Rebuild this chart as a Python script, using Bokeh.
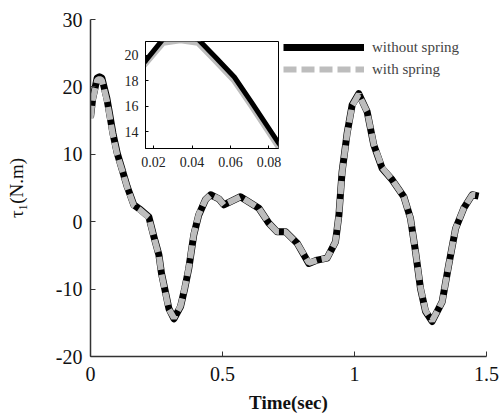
from bokeh.plotting import figure
from bokeh.models import Range1d, FixedTicker, Legend, LegendItem
from bokeh.layouts import column
from bokeh.embed import file_html
from bokeh.resources import INLINE

# ---- data ----
time_s = [0, 0.008, 0.016, 0.025, 0.034, 0.043, 0.052, 0.062, 0.071, 0.085,
          0.101, 0.12, 0.139, 0.164, 0.189, 0.221, 0.24, 0.259, 0.269, 0.282,
          0.297, 0.316, 0.341, 0.357, 0.372, 0.391, 0.41, 0.436, 0.455, 0.486,
          0.505, 0.568, 0.638, 0.675, 0.707, 0.739, 0.783, 0.827, 0.859, 0.896,
          0.928, 0.941, 0.953, 0.972, 0.991, 1.016, 1.048, 1.073, 1.105, 1.143,
          1.187, 1.212, 1.231, 1.25, 1.269, 1.294, 1.332, 1.357, 1.383, 1.414,
          1.446, 1.47]
without_spring = [15.5, 18.2, 19.6, 21.3, 21.5, 21.3, 19.9, 18.3, 16.3, 13.1,
                  10.2, 7.7, 5.2, 2.5, 1.8, 0.7, -2.2, -4.9, -7.7, -10.1,
                  -12.9, -14.4, -12.6, -9.9, -7.0, -2.0, 1.0, 3.3, 4.0, 3.4,
                  2.5, 3.7, 2.0, -0.2, -1.5, -1.5, -3.2, -6.2, -5.7, -5.4,
                  -3.0, 1.0, 7.4, 13.1, 17.3, 19.0, 16.3, 11.4, 7.9, 6.2,
                  3.7, 0.5, -4.4, -9.9, -13.3, -14.8, -11.9, -6.4, -1.0, 2.0,
                  4.0, 3.8]
with_spring = [15.3, 18.0, 19.4, 21.0, 21.2, 21.0, 19.6, 18.0, 16.0, 12.8,
               10.0, 7.6, 5.1, 2.4, 1.7, 0.6, -2.3, -5.0, -7.8, -10.2,
               -13.0, -14.3, -12.5, -9.8, -6.9, -1.9, 1.1, 3.3, 4.0, 3.4,
               2.5, 3.7, 2.0, -0.2, -1.5, -1.5, -3.2, -6.1, -5.7, -5.4,
               -3.0, 1.0, 7.3, 13.0, 17.2, 18.9, 16.3, 11.5, 8.0, 6.2,
               3.7, 0.5, -4.4, -9.8, -13.2, -14.7, -11.9, -6.4, -1.0, 2.0,
               4.0, 3.9]
x_ticks = [0, 0.5, 1, 1.5]
y_ticks = [-20, -10, 0, 10, 20, 30]
y_tick_labels = ["-20", "-10", "0", "10", "20", "30"]
inset_x_ticks = [0.02, 0.04, 0.06, 0.08]
inset_y_ticks = [14, 16, 18, 20]

FONT = "Liberation Serif"
GRAY = "#bdbdbd"
AX = "#333333"

# ---- main figure ----
p = figure(width=501, height=418, x_range=Range1d(0, 1.5), y_range=Range1d(-20, 30),
           output_backend="svg", toolbar_location=None,
           min_border_left=90, min_border_right=15, min_border_top=19, min_border_bottom=62)
p.outline_line_color = None
p.xgrid.grid_line_color = None
p.ygrid.grid_line_color = None
p.background_fill_color = "white"

p.xaxis.ticker = FixedTicker(ticks=x_ticks)
p.yaxis.ticker = FixedTicker(ticks=y_ticks)
p.yaxis.major_label_overrides = dict(zip(y_ticks, y_tick_labels))
for ax in (p.xaxis[0], p.yaxis[0]):
    ax.major_tick_in = 5
    ax.major_tick_out = 0
    ax.minor_tick_line_color = None
    ax.axis_line_color = AX
    ax.axis_line_width = 1.5
    ax.major_tick_line_color = AX
    ax.major_label_text_font = FONT
    ax.major_label_text_font_size = "20px"
    ax.major_label_text_color = "#111111"
    ax.axis_label_text_font = FONT
    ax.axis_label_text_color = "#111111"

p.xaxis.major_label_standoff = 10
p.yaxis.major_label_standoff = 8
p.xaxis.axis_label = "Time(sec)"
p.xaxis.axis_label_text_font_size = "19px"
p.xaxis.axis_label_text_font_style = "bold"
p.xaxis.axis_label_standoff = 8
p.yaxis.axis_label = "τ₁(N.m)"
p.yaxis.axis_label_text_font_size = "19px"
p.yaxis.axis_label_text_font_style = "normal"
p.yaxis.axis_label_standoff = 26

r_black = p.line(time_s, without_spring, line_color="black", line_width=7, line_join="round")
r_gray = p.line(time_s, with_spring, line_color=GRAY, line_width=6, line_dash="13 5")

legend = Legend(items=[LegendItem(label="without spring", renderers=[r_black]),
                       LegendItem(label="with spring", renderers=[r_gray])],
                location=(193, 277), border_line_color=None, background_fill_alpha=0,
                glyph_width=81, glyph_height=20, label_height=20, spacing=2,
                padding=0, margin=0, label_standoff=8,
                label_text_font=FONT, label_text_font_size="15px")
p.add_layout(legend)

# ---- inset (its side borders get aligned with the main plot's: 90 left, 15 right) ----
ins = figure(width=238, height=145,
             x_range=Range1d(0.0158, 0.085), y_range=Range1d(12.66, 21.1),
             output_backend="svg", toolbar_location=None,
             min_border_left=90, min_border_top=8, min_border_right=15, min_border_bottom=30,
             styles={"position": "absolute", "left": "55px", "top": "33px"})
ins.border_fill_color = None
ins.background_fill_color = "white"
ins.outline_line_color = "black"
ins.outline_line_width = 1
ins.xgrid.grid_line_color = None
ins.ygrid.grid_line_color = None
ins.xaxis.ticker = FixedTicker(ticks=inset_x_ticks)
ins.yaxis.ticker = FixedTicker(ticks=inset_y_ticks)
for ax in ins.axis:
    ax.major_tick_in = 3
    ax.major_tick_out = 0
    ax.minor_tick_line_color = None
    ax.axis_line_color = "black"
    ax.major_tick_line_color = "black"
    ax.major_label_text_font = FONT
    ax.major_label_text_font_size = "14px"
    ax.major_label_text_color = "#222222"
ins.xaxis[0].major_label_standoff = 8
ins.yaxis[0].major_label_standoff = 7

ins.line(time_s, with_spring, line_color=GRAY, line_width=6)
ins.line(time_s, without_spring, line_color="black", line_width=5)

layout = column(p, ins)
open("out.html", "w").write(file_html(layout, INLINE))
